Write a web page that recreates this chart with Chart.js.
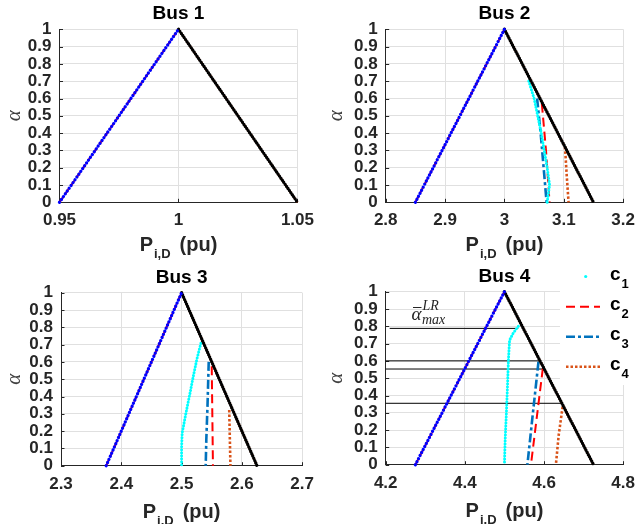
<!DOCTYPE html>
<html>
<head>
<meta charset="utf-8">
<script src="https://cdn.jsdelivr.net/npm/chart.js@4.4.1/dist/chart.umd.min.js"></script>
<style>
  html, body { margin: 0; padding: 0; background: #fff; }
  #wrap { position: relative; width: 643px; height: 524px; overflow: hidden; background: #fff; }
  #wrap canvas { position: absolute; }
</style>
</head>
<body>
<div id="wrap">
  <canvas id="bus1" width="322" height="262" style="left:0;top:0"></canvas>
  <canvas id="bus2" width="321" height="262" style="left:322px;top:0"></canvas>
  <canvas id="bus3" width="322" height="262" style="left:0;top:262px"></canvas>
  <canvas id="bus4" width="321" height="262" style="left:322px;top:262px"></canvas>
</div>
<script>
// ---- data ----
const busTitles = ['Bus 1', 'Bus 2', 'Bus 3', 'Bus 4'];
const alphaTicks = [0, 0.1, 0.2, 0.3, 0.4, 0.5, 0.6, 0.7, 0.8, 0.9, 1];

const xTicks1 = [0.95, 1, 1.05];
const xTicks2 = [2.8, 2.9, 3, 3.1, 3.2];
const xTicks3 = [2.3, 2.4, 2.5, 2.6, 2.7];
const xTicks4 = [4.2, 4.4, 4.6, 4.8];

// triangular fuzzy load: lower foot, peak, upper foot
const fuzzy1 = [0.95, 1, 1.05];
const fuzzy2 = [2.85, 3, 3.15];
const fuzzy3 = [2.375, 2.5, 2.625];
const fuzzy4 = [4.275, 4.5, 4.725];

// bus 2 cases
const b2c1P = [3.041, 3.050, 3.056, 3.062, 3.067, 3.072, 3.076, 3.072];
const b2c1A = [0.70, 0.60, 0.50, 0.40, 0.30, 0.20, 0.10, 0];
const b2c2P = [3.063, 3.070, 3.076];
const b2c2A = [0.57, 0.30, 0];
const b2c3P = [3.055, 3.061, 3.066, 3.071];
const b2c3A = [0.60, 0.40, 0.20, 0];
const b2c4P = [3.102, 3.105, 3.108];
const b2c4A = [0.32, 0.15, 0];

// bus 3 cases
const b3c1P = [2.532, 2.525, 2.519, 2.514, 2.507, 2.501, 2.500, 2.500];
const b3c1A = [0.707, 0.61, 0.51, 0.42, 0.30, 0.19, 0.10, 0];
const b3c2P = [2.550, 2.552];
const b3c2A = [0.575, 0];
const b3c3P = [2.545, 2.543, 2.541, 2.540];
const b3c3A = [0.60, 0.35, 0.15, 0];
const b3c4P = [2.579, 2.581];
const b3c4A = [0.322, 0];

// bus 4 cases
const b4c1P = [4.535, 4.522, 4.513, 4.510, 4.508, 4.505, 4.502, 4.500];
const b4c1A = [0.80, 0.76, 0.72, 0.60, 0.47, 0.30, 0.15, 0];
const b4c2P = [4.597, 4.567];
const b4c2A = [0.557, 0];
const b4c3P = [4.586, 4.572, 4.558];
const b4c3A = [0.595, 0.30, 0];
const b4c4P = [4.647, 4.637, 4.630];
const b4c4A = [0.335, 0.17, 0];

// alpha_max^LR marker lines on bus 4
const limitAlpha = [0.788, 0.600, 0.553, 0.355];
const limitStart = [4.21, 4.2, 4.2, 4.2];
const limitEnd = [4.535, 4.590, 4.601, 4.647];

// ---- styling ----
const AXIS = '#262626';
const GRID = '#e0e0e0';
const ORANGE = '#d95319';
const STEEL = '#0072bd';

Chart.defaults.font.family = '"Liberation Sans", Arial, sans-serif';
Chart.defaults.color = AXIS;

function seg(xs, ys) {
  return xs.map((x, i) => ({ x: x, y: ys[i] }));
}

const styles = {
  c1: { borderColor: '#00ffff', borderWidth: 3, borderDash: [0.01, 3], borderCapStyle: 'round' },
  c2: { borderColor: '#ff0000', borderWidth: 2, borderDash: [9, 5] },
  c3: { borderColor: STEEL, borderWidth: 2.6, borderDash: [9, 3, 3, 3] },
  c4: { borderColor: ORANGE, borderWidth: 2.6, borderDash: [2.5, 2] }
};

function lineSet(data, style, order) {
  return Object.assign({
    data: data, showLine: true, pointRadius: 0, tension: 0,
    clip: false, order: order
  }, style);
}

function triangleSets(f) {
  const left = seg([f[0], f[1]], [0, 1]);
  const right = seg([f[1], f[2]], [1, 0]);
  return [
    lineSet(left, { borderColor: '#ff0000', borderWidth: 2, borderDash: [6, 4] }, 3),
    lineSet(right, { borderColor: ORANGE, borderWidth: 2.4, borderDash: [2, 2] }, 3),
    lineSet(left, { borderColor: '#0000ff', borderWidth: 3.3, borderDash: [0.01, 3.4], borderCapStyle: 'round' }, 0),
    lineSet(right, { borderColor: '#000000', borderWidth: 3.3, borderDash: [0.01, 2.5], borderCapStyle: 'round' }, 0)
  ];
}

function caseSets(c1, c2, c3, c4) {
  return [
    lineSet(c1, styles.c1, 1),
    lineSet(c2, styles.c2, 1),
    lineSet(c3, styles.c3, 1),
    lineSet(c4, styles.c4, 1)
  ];
}

// x label "P_{i,D} (pu)" with a real subscript
const axisLabel = {
  id: 'axisLabel',
  afterDraw(chart, args, opts) {
    const { ctx, chartArea } = chart;
    const big = 'bold 20px "Liberation Sans"';
    const small = 'bold 13px "Liberation Sans"';
    ctx.save();
    ctx.font = big;
    const wP = ctx.measureText('P').width;
    const wU = ctx.measureText('(pu)').width;
    ctx.font = small;
    const wS = ctx.measureText('i,D').width;
    const gap = 9;
    let x = (chartArea.left + chartArea.right) / 2 - (wP + 1 + wS + gap + wU) / 2;
    const y = chartArea.bottom + opts.base;
    ctx.fillStyle = AXIS;
    ctx.textAlign = 'left';
    ctx.textBaseline = 'alphabetic';
    ctx.font = big;
    ctx.fillText('P', x, y);
    x += wP + 1;
    ctx.font = small;
    ctx.fillText('i,D', x, y + 7);
    x += wS + gap;
    ctx.font = big;
    ctx.fillText('(pu)', x, y);
    ctx.restore();
  }
};

// MATLAB style inward tick marks
const innerTicks = {
  id: 'innerTicks',
  beforeDatasetsDraw(chart) {
    const { ctx, chartArea, scales } = chart;
    ctx.save();
    ctx.strokeStyle = AXIS;
    ctx.lineWidth = 1;
    ctx.beginPath();
    scales.x.ticks.forEach(t => {
      const px = Math.round(scales.x.getPixelForValue(t.value)) + 0.5;
      ctx.moveTo(px, chartArea.bottom);
      ctx.lineTo(px, chartArea.bottom - 3.5);
    });
    scales.y.ticks.forEach(t => {
      const py = Math.round(scales.y.getPixelForValue(t.value)) + 0.5;
      ctx.moveTo(chartArea.left, py);
      ctx.lineTo(chartArea.left + 3.5, py);
    });
    ctx.stroke();
    ctx.restore();
  }
};

// legend box + alpha_max label on bus 4
const bus4Extras = {
  id: 'bus4Extras',
  afterDraw(chart) {
    const ctx = chart.ctx;
    ctx.save();
    ctx.fillStyle = '#ffffff';
    ctx.fillRect(238, 0, 90, 123);

    const rows = [styles.c1, styles.c2, styles.c3, styles.c4];
    const lineY = [14.5, 44.7, 74.7, 104.7];
    rows.forEach((s, i) => {
      ctx.strokeStyle = s.borderColor;
      ctx.lineWidth = s.borderWidth;
      ctx.lineCap = s.borderCapStyle || 'butt';
      if (i === 0) {
        ctx.fillStyle = s.borderColor;
        ctx.beginPath();
        ctx.arc(263.7, lineY[0], 1.6, 0, Math.PI * 2);
        ctx.fill();
      } else {
        ctx.setLineDash(s.borderDash);
        ctx.beginPath();
        ctx.moveTo(244, lineY[i]);
        ctx.lineTo(278, lineY[i]);
        ctx.stroke();
      }
      ctx.setLineDash([]);
      ctx.fillStyle = '#000';
      ctx.textAlign = 'left';
      ctx.textBaseline = 'alphabetic';
      ctx.font = 'bold 19px "Liberation Sans"';
      ctx.fillText('c', 288, lineY[i] + 3.5);
      ctx.font = 'bold 13px "Liberation Sans"';
      ctx.fillText(String(i + 1), 299.5, lineY[i] + 11);
    });

    // \bar{\alpha}^{LR}_{max}
    ctx.fillStyle = AXIS;
    ctx.strokeStyle = AXIS;
    ctx.font = 'italic 19px "Liberation Serif"';
    ctx.fillText('α', 89.5, 58);
    ctx.lineWidth = 1;
    ctx.beginPath();
    ctx.moveTo(91, 45.5);
    ctx.lineTo(99.5, 45.5);
    ctx.stroke();
    ctx.font = 'italic 14px "Liberation Serif"';
    ctx.fillText('LR', 100.5, 48);
    ctx.fillText('max', 100, 62.3);
    ctx.restore();
  }
};

function makeBus(id, title, xTicks, datasets, box, extra) {
  const tickVals = ticks => ticks.map(v => ({ value: v }));
  return new Chart(document.getElementById(id), {
    type: 'scatter',
    data: { datasets: datasets },
    plugins: [innerTicks, axisLabel].concat(extra ? [extra] : []),
    options: {
      responsive: false,
      animation: false,
      events: [],
      layout: { padding: { left: 0, right: box.padRight, top: 0, bottom: 0 } },
      plugins: {
        legend: { display: false },
        tooltip: { enabled: false },
        title: {
          display: true,
          text: title,
          fullSize: false,
          color: '#000',
          font: { size: 19, weight: 'bold', lineHeight: 1.2 },
          padding: { top: box.top - 22.8 - 4, bottom: 4 }
        },
        axisLabel: { base: box.titleBase }
      },
      scales: {
        x: {
          type: 'linear',
          min: xTicks[0],
          max: xTicks[xTicks.length - 1],
          afterBuildTicks: s => { s.ticks = tickVals(xTicks); },
          afterFit: s => { s.height = box.xHeight; },
          grid: { color: GRID, drawTicks: false },
          border: { color: AXIS, width: 1 },
          ticks: {
            padding: 8,
            maxRotation: 0,
            autoSkip: false,
            color: AXIS,
            font: { size: 17, weight: 'bold' },
            callback: v => String(v)
          }
        },
        y: {
          type: 'linear',
          min: 0,
          max: 1,
          afterBuildTicks: s => { s.ticks = tickVals(alphaTicks); },
          afterFit: s => { s.width = box.yWidth; },
          grid: { color: GRID, drawTicks: false },
          border: { color: AXIS, width: 1 },
          ticks: {
            padding: 8,
            autoSkip: false,
            color: AXIS,
            font: { size: 17, weight: 'bold' },
            callback: v => String(v)
          },
          title: {
            display: true,
            text: 'α',
            color: '#404040',
            font: { family: '"Liberation Serif", serif', style: 'italic', size: 21, weight: 'normal', lineHeight: 1 },
            padding: { top: 4, bottom: 0 }
          }
        }
      }
    }
  });
}

makeBus('bus1', busTitles[0], xTicks1, triangleSets(fuzzy1),
  { yWidth: 59.5, padRight: 18.7, top: 29.3, xHeight: 59.7, titleBase: 48.5 });

makeBus('bus2', busTitles[1], xTicks2,
  triangleSets(fuzzy2).concat(caseSets(seg(b2c1P, b2c1A), seg(b2c2P, b2c2A), seg(b2c3P, b2c3A), seg(b2c4P, b2c4A))),
  { yWidth: 63.7, padRight: 12.3, top: 29.3, xHeight: 59.7, titleBase: 48.5 });

makeBus('bus3', busTitles[2], xTicks3,
  triangleSets(fuzzy3).concat(caseSets(seg(b3c1P, b3c1A), seg(b3c2P, b3c2A), seg(b3c3P, b3c3A), seg(b3c4P, b3c4A))),
  { yWidth: 61, padRight: 18.7, top: 30.7, xHeight: 58.3, titleBase: 52.5 });

const limitSets = limitAlpha.map((a, i) =>
  lineSet(seg([limitStart[i], limitEnd[i]], [a, a]), { borderColor: '#000000', borderWidth: 1 }, 5));

makeBus('bus4', busTitles[3], xTicks4,
  triangleSets(fuzzy4)
    .concat(caseSets(seg(b4c1P, b4c1A), seg(b4c2P, b4c2A), seg(b4c3P, b4c3A), seg(b4c4P, b4c4A)))
    .concat(limitSets),
  { yWidth: 63.7, padRight: 12.3, top: 29.7, xHeight: 59.3, titleBase: 52.5 },
  bus4Extras);
</script>
</body>
</html>
